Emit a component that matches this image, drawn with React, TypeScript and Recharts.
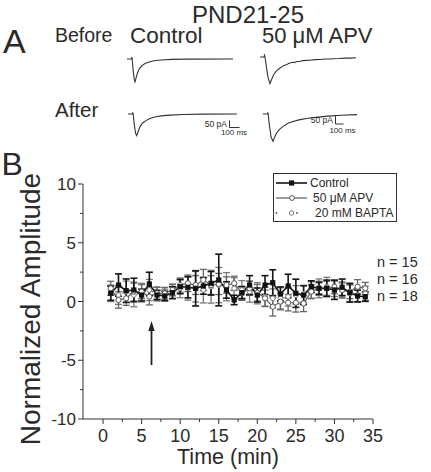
import React from 'react';
import {
  ComposedChart,
  LineChart,
  Line,
  XAxis,
  YAxis,
  ErrorBar,
} from 'recharts';

const FONT = '"Liberation Sans", Arial, sans-serif';
const INK = '#2a2a2a';

// Panel B: time course (min) and normalized amplitude
const times = [1, 2, 3, 4, 5, 6, 7, 8, 9, 10, 11, 12, 13, 14, 15, 16, 17, 18, 19, 20, 21, 22, 23, 24, 25, 26, 27, 28, 29, 30, 31, 32, 33, 34];

const controlMean = [0.7, 1.4, 0.92, 0.98, 0.55, 1.49, 0.55, 0.47, 0.75, 1.26, 1.21, 1.12, 1.32, 1.55, 1.83, 0.98, 0.13, 0.75, 1.4, 0.55, 1.4, 1.6, 0.64, 1.32, 0.7, 0.55, 1.26, 1.12, 1.12, 0.98, 1.21, 0.75, 0.47, 0.41];
const controlErr = [0.6, 0.95, 1.0, 1.0, 0.5, 1.0, 0.4, 0.4, 0.5, 0.6, 0.9, 1.5, 0.7, 1.0, 2.2, 0.7, 0.4, 0.5, 0.8, 0.6, 0.8, 1.1, 0.6, 1.0, 1.2, 0.8, 0.5, 0.5, 0.7, 0.8, 0.7, 0.8, 0.5, 0.4];

const apvMean = [1.12, 0.13, 0.27, 0.84, 0.84, 0.41, 0.7, 0.7, 0.98, 1.4, 1.55, 1.4, 1.83, 1.4, 1.49, 1.4, 1.55, 0.7, 1.12, 0.75, 0.27, -0.44, -0.01, -0.1, -0.1, -0.16, 0.84, 1.12, 1.12, 1.26, 0.98, 0.84, 1.26, 1.12];
const apvErr = [0.6, 0.7, 0.6, 0.8, 0.6, 0.7, 0.5, 0.5, 0.5, 0.6, 0.7, 0.8, 0.9, 0.8, 0.9, 0.7, 0.6, 0.6, 0.6, 0.7, 0.7, 0.8, 0.7, 0.7, 0.8, 0.7, 0.6, 0.6, 0.6, 0.6, 0.6, 0.6, 0.6, 0.5];

const baptaMean = [0.7, 0.55, 0.84, 0.55, 0.75, 0.98, 0.64, 0.55, 0.84, 1.12, 1.12, 1.26, 0.98, 1.26, 1.4, 1.26, 1.12, 0.98, 0.84, 0.7, 0.41, 0.27, 0.27, 0.41, 0.55, 0.64, 0.98, 1.12, 1.26, 1.12, 0.98, 0.7, 0.55, 0.7];
const baptaErr = [0.7, 0.8, 0.9, 1.0, 0.8, 0.9, 0.6, 0.5, 0.6, 0.8, 1.0, 1.3, 1.1, 1.4, 1.5, 1.2, 0.9, 0.8, 0.9, 0.9, 0.8, 0.8, 0.9, 0.8, 0.8, 0.7, 0.7, 0.8, 0.8, 0.7, 0.7, 0.7, 0.6, 0.6];

const xTicks = [0, 2.5, 5, 7.5, 10, 12.5, 15, 17.5, 20, 22.5, 25, 27.5, 30, 32.5, 35];
const yTicks = [-10, -7.5, -5, -2.5, 0, 2.5, 5, 7.5, 10];
const nLabels = ['n = 15', 'n = 16', 'n = 18'];

// Panel A: example currents, [ms, pA]
const beforeControlTrace = [[0, 0], [45, 0], [48, 15], [52, 0], [60, -80], [72, -170], [80, -190], [90, -160], [105, -115], [125, -80], [150, -55], [180, -38], [220, -25], [270, -15], [340, -8], [450, -3], [600, -1], [1060, 0]];
const beforeApvTrace = [[0, 0], [40, 0], [45, 15], [50, 0], [60, -60], [80, -170], [100, -222], [115, -190], [135, -150], [160, -120], [200, -92], [240, -70], [270, -62], [285, -55], [300, -50], [330, -44], [345, -47], [360, -40], [400, -36], [430, -30], [460, -28], [500, -27], [550, -22], [600, -21], [650, -17], [700, -17], [730, -14], [790, -13], [850, -9], [900, -9], [960, -6]];
const afterControlTrace = [[0, 0], [45, 0], [48, 14], [52, 0], [62, -80], [75, -160], [87, -180], [100, -150], [120, -105], [145, -75], [180, -55], [220, -37], [270, -25], [330, -16], [420, -9], [550, -4], [750, -1], [1090, 0]];
const afterApvTrace = [[0, 0], [45, 0], [48, 14], [52, 0], [62, -80], [80, -190], [100, -228], [115, -195], [135, -160], [165, -128], [200, -103], [250, -78], [300, -62], [370, -47], [450, -36], [530, -28], [650, -18], [780, -10], [940, -5]];

const data = times.map((t, i) => ({
  t,
  ctrl: controlMean[i],
  ctrlErr: controlErr[i],
  apv: apvMean[i],
  apvErr: apvErr[i],
  bapta: baptaMean[i],
  baptaErr: baptaErr[i],
}));

const XTick = (props: any) => {
  const { x, y, payload } = props;
  const major = payload.value % 5 === 0;
  return (
    <g>
      <line x1={x} x2={x} y1={y} y2={y + (major ? 5 : 3)} stroke="#333" strokeWidth={1} />
      {major && (
        <text x={x} y={y + 22.5} textAnchor="middle" fontSize={18} fontFamily={FONT} fill={INK}>
          {payload.value}
        </text>
      )}
    </g>
  );
};

const YTick = (props: any) => {
  const { x, y, payload } = props;
  const major = payload.value % 5 === 0;
  return (
    <g>
      <line x1={x - (major ? 5 : 3)} x2={x} y1={y} y2={y} stroke="#333" strokeWidth={1} />
      {major && (
        <text x={x - 7} y={y + 6} textAnchor="end" fontSize={17} fontFamily={FONT} fill={INK}>
          {payload.value}
        </text>
      )}
    </g>
  );
};

const squareDot = (p: any) => (
  <rect key={`sq-${p.index}`} x={p.cx - 2.6} y={p.cy - 2.6} width={5.2} height={5.2} fill="#111" />
);
const apvDot = (p: any) => (
  <circle key={`ap-${p.index}`} cx={p.cx} cy={p.cy} r={2.6} fill="#fff" stroke="#555" strokeWidth={1} />
);
const baptaDot = (p: any) => (
  <circle key={`ba-${p.index}`} cx={p.cx} cy={p.cy} r={2.4} fill="#fff" stroke="#7a7a7a" strokeWidth={1} />
);

// one small trace plot, baseline 6px below its top edge
const Trace = ({ points, left, baseline, width }: { points: number[][]; left: number; baseline: number; width: number }) => {
  const rows = points.map(([ms, pA]) => ({ ms, pA }));
  const maxMs = points[points.length - 1][0];
  return (
    <div style={{ position: 'absolute', left, top: baseline - 6, width, height: 36 }}>
      <LineChart width={width} height={36} data={rows} margin={{ top: 0, right: 0, bottom: 0, left: 0 }}>
        <XAxis dataKey="ms" type="number" domain={[0, maxMs]} hide />
        <YAxis type="number" domain={[-250, 50]} hide />
        <Line dataKey="pA" stroke="#333" strokeWidth={1.1} dot={false} isAnimationActive={false} />
      </LineChart>
    </div>
  );
};

const txt: React.CSSProperties = { fontFamily: FONT, fill: INK } as any;

export default function App() {
  return (
    <div style={{ position: 'absolute', left: 0, top: 0, width: 431, height: 472, background: '#fff', overflow: 'hidden' }}>
      <div style={{ position: 'absolute', left: 0, top: 0 }}>
        <ComposedChart width={431} height={472} data={data} margin={{ top: 184, right: 58, left: 43, bottom: 23 }}>
          <XAxis
            dataKey="t"
            type="number"
            domain={[-2.6, 35]}
            ticks={xTicks}
            interval={0}
            tick={<XTick />}
            tickLine={false}
            tickSize={0}
            tickMargin={0}
            height={30}
            axisLine={{ stroke: '#333', strokeWidth: 1 }}
          />
          <YAxis
            type="number"
            domain={[-10, 10]}
            ticks={yTicks}
            interval={0}
            tick={<YTick />}
            tickLine={false}
            tickSize={0}
            tickMargin={0}
            width={40}
            axisLine={{ stroke: '#333', strokeWidth: 1 }}
          />
          <Line dataKey="bapta" stroke="#7a7a7a" strokeWidth={1.2} strokeDasharray="1.5 2.5" dot={baptaDot} isAnimationActive={false}>
            <ErrorBar dataKey="baptaErr" width={3.5} stroke="#7a7a7a" strokeWidth={1.3} direction="y" />
          </Line>
          <Line dataKey="apv" stroke="#666" strokeWidth={1.3} dot={apvDot} isAnimationActive={false}>
            <ErrorBar dataKey="apvErr" width={3.5} stroke="#666" strokeWidth={1.3} direction="y" />
          </Line>
          <Line dataKey="ctrl" stroke="#151515" strokeWidth={1.6} dot={squareDot} isAnimationActive={false}>
            <ErrorBar dataKey="ctrlErr" width={3.5} stroke="#151515" strokeWidth={1.6} direction="y" />
          </Line>
        </ComposedChart>
      </div>

      <Trace points={beforeControlTrace} left={127} baseline={59} width={106} />
      <Trace points={beforeApvTrace} left={260} baseline={57} width={96} />
      <Trace points={afterControlTrace} left={128} baseline={114} width={109} />
      <Trace points={afterApvTrace} left={263} baseline={114} width={94} />

      <svg width={431} height={472} style={{ position: 'absolute', left: 0, top: 0, pointerEvents: 'none' }}>
        {/* panel A labels */}
        <text x={3} y={53} fontSize={34} style={txt}>A</text>
        <text x={248} y={23} fontSize={24} textAnchor="middle" style={txt}>PND21-25</text>
        <text x={55} y={42} fontSize={19.5} style={txt}>Before</text>
        <text x={130} y={42.5} fontSize={22.5} style={txt}>Control</text>
        <text x={262} y={42.5} fontSize={22} style={txt}>50 μM APV</text>
        <text x={55} y={117} fontSize={20.5} style={txt}>After</text>

        {/* scale bars */}
        <text x={227} y={127} fontSize={8.5} textAnchor="end" style={txt}>50 pA</text>
        <polyline points="229.5,120.5 229.5,127.5 239.5,127.5" fill="none" stroke="#333" strokeWidth={1} />
        <text x={234} y={135} fontSize={8} textAnchor="middle" style={txt}>100 ms</text>
        <text x={333} y={122.5} fontSize={8.5} textAnchor="end" style={txt}>50 pA</text>
        <polyline points="335.5,116 335.5,124 343.5,124" fill="none" stroke="#333" strokeWidth={1} />
        <text x={342.5} y={133} fontSize={8} textAnchor="middle" style={txt}>100 ms</text>

        {/* panel B labels */}
        <text x={1.5} y={175} fontSize={32} style={txt}>B</text>
        <text transform="translate(40,309) rotate(-90)" fontSize={28} textAnchor="middle" style={txt}>
          Normalized Amplitude
        </text>
        <text x={228} y={464} fontSize={21.5} textAnchor="middle" style={txt}>Time (min)</text>
        {nLabels.map((s, i) => (
          <text key={s} x={377} y={267 + i * 16.8} fontSize={14.5} style={txt}>{s}</text>
        ))}

        {/* arrow */}
        <line x1={151.5} x2={151.5} y1={365} y2={328} stroke="#222" strokeWidth={1.8} />
        <polygon points="151.5,321 148.3,331 154.7,331" fill="#222" />

        {/* legend */}
        <rect x={273.5} y={173.5} width={123} height={48} fill="#fff" stroke="#333" strokeWidth={1} />
        <line x1={276} x2={307} y1={183} y2={183} stroke="#151515" strokeWidth={1.6} />
        <rect x={289} y={180.4} width={5.2} height={5.2} fill="#111" />
        <text x={310} y={187} fontSize={12} style={txt}>Control</text>
        <line x1={276} x2={307} y1={198} y2={198} stroke="#666" strokeWidth={1.3} />
        <circle cx={292} cy={198} r={2.4} fill="#fff" stroke="#555" />
        <text x={313} y={202} fontSize={12} style={txt}>50 μM APV</text>
        <circle cx={276.5} cy={213} r={0.9} fill="#555" />
        <circle cx={291.5} cy={213} r={2.2} fill="#fff" stroke="#7a7a7a" />
        <circle cx={297} cy={213} r={0.9} fill="#555" />
        <text x={315} y={217} fontSize={12} style={txt}>20 mM BAPTA</text>
      </svg>
    </div>
  );
}
